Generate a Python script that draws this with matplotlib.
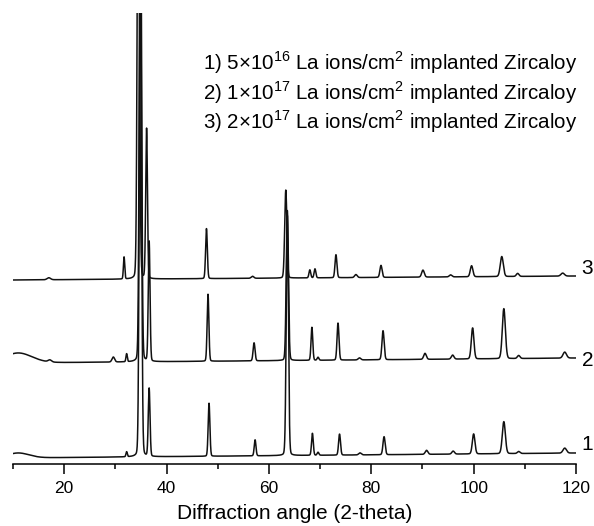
import numpy as np
import matplotlib
matplotlib.use('Agg')
import matplotlib.pyplot as plt
from matplotlib.ticker import MultipleLocator

plt.rcParams['font.family'] = ['Liberation Sans', 'DejaVu Sans']
plt.rcParams['mathtext.fontset'] = 'custom'
plt.rcParams['mathtext.rm'] = 'Liberation Sans'

# peak tables: 2-theta, height, half width (deg)
# heights are counted in pixels of the original figure above the trace baseline
pos_1 = [11.0, 32.2, 34.9, 36.6, 48.3, 57.3, 63.6, 68.5, 69.6, 73.8, 77.8,
         82.5, 90.8, 96.0, 100.0, 105.9, 108.8, 117.8]
height_1 = [5, 5, 520, 68, 53, 16, 240, 22, 3, 21, 2, 18, 4, 3, 20, 32, 2, 5]
width_1 = [2.5, 0.15, 0.25, 0.2, 0.2, 0.2, 0.25, 0.2, 0.2, 0.22, 0.3,
           0.25, 0.3, 0.3, 0.3, 0.35, 0.3, 0.4]

pos_2 = [11.0, 17.2, 29.6, 32.2, 34.9, 36.6, 48.1, 57.1, 63.6, 68.4, 69.6,
         73.5, 77.7, 82.3, 90.5, 95.9, 99.8, 105.9, 108.8, 117.8]
height_2 = [10, 2, 5, 8, 520, 120, 67, 18, 150, 33, 3, 37, 2, 29, 6, 4, 31,
            50, 3, 6]
width_2 = [3.2, 0.4, 0.3, 0.15, 0.25, 0.2, 0.2, 0.22, 0.25, 0.2, 0.2, 0.22,
           0.3, 0.25, 0.3, 0.3, 0.3, 0.35, 0.3, 0.4]

pos_3 = [17.0, 31.7, 34.5, 36.1, 47.8, 56.8, 63.3, 68.0, 69.0, 73.1, 77.0,
         81.9, 90.1, 95.5, 99.6, 105.5, 108.6, 117.4]
height_3 = [2, 22, 520, 150, 50, 2, 88, 8, 9, 23, 3, 12, 7, 2, 11, 20, 3, 3]
width_3 = [0.4, 0.15, 0.25, 0.2, 0.2, 0.3, 0.25, 0.2, 0.2, 0.22, 0.3,
           0.25, 0.3, 0.3, 0.3, 0.35, 0.3, 0.4]

# baseline of each trace at 10 and 120 deg (pixels above the axis line)
base_1 = [6, 11]
base_2 = [101, 106]
base_3 = [184, 188]

labels = ['1', '2', '3']
label_y = [20, 104, 196]

legend_lines = [
    '1) 5×10$^{16}$ La ions/cm$^2$ implanted Zircaloy',
    '2) 1×10$^{17}$ La ions/cm$^2$ implanted Zircaloy',
    '3) 2×10$^{17}$ La ions/cm$^2$ implanted Zircaloy',
]

two_theta = np.arange(10, 120.001, 0.02)


def pattern(pos, height, width, base):
    y = base[0] + (base[1] - base[0]) * (two_theta - 10) / 110
    for c, h, w in zip(pos, height, width):
        d = (two_theta - c) / w
        y = y + h * (0.92 * np.exp(-np.log(2) * d ** 2) + 0.08 / (1 + d ** 2))
    return y


fig = plt.figure(figsize=(5.94, 5.26), dpi=100)
ax = fig.add_axes([13 / 594, 62 / 526, 563 / 594, 451 / 526])

traces = [(pos_1, height_1, width_1, base_1),
          (pos_2, height_2, width_2, base_2),
          (pos_3, height_3, width_3, base_3)]
for (p, h, w, b), lab, ly in zip(traces, labels, label_y):
    ax.plot(two_theta, pattern(p, h, w, b), color='#111111', lw=1.1)
    ax.text(121.1, ly, lab, fontsize=15, ha='left', va='center', clip_on=False)

ax.set_xlim(10, 120)
ax.set_ylim(0, 451)
for s in ['left', 'right', 'top']:
    ax.spines[s].set_visible(False)
ax.spines['bottom'].set_linewidth(1.1)
ax.set_yticks([])
ax.xaxis.set_major_locator(MultipleLocator(20))
ax.xaxis.set_minor_locator(MultipleLocator(10))
ax.tick_params(axis='x', which='major', direction='out', length=7, width=1.1,
               labelsize=12.5, pad=5)
ax.tick_params(axis='x', which='minor', direction='out', length=3.5, width=1.1)
ax.set_xlabel('Diffraction angle (2-theta)', fontsize=15, labelpad=6)

for i, line in enumerate(legend_lines):
    fig.text(203 / 594, 1 - (63 + 29.5 * i) / 526, line, fontsize=14.8,
             ha='left', va='center')

fig.savefig('out.png', dpi=100)
